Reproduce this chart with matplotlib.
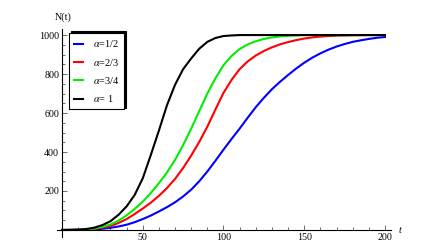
import matplotlib
matplotlib.use("Agg")
import matplotlib.pyplot as plt
from matplotlib.patches import Shadow
from matplotlib.ticker import MultipleLocator, FixedLocator

# values (every 5 units of t)
t_black = [0, 5, 10, 15, 20, 25, 30, 35, 40, 45, 50, 55, 60, 65, 70, 75, 80, 85, 90, 95, 100, 105, 110, 120, 140, 160, 180, 200]
n_black = [0, 1, 2, 5, 12, 25, 45, 78, 121, 180, 265, 385, 510, 640, 745, 825, 880, 930, 965, 985, 995, 998, 1000, 1000, 1000, 1000, 1000, 1000]

t_green = [0, 5, 10, 15, 20, 25, 30, 35, 40, 45, 50, 55, 60, 65, 70, 75, 80, 85, 90, 95, 100,
           105, 110, 115, 120, 125, 130, 135, 140, 145, 150, 160, 180, 200]
n_green = [0, 0, 1, 3, 8, 16, 28, 48, 75, 108, 145, 190, 240, 295, 360, 435, 520, 610, 700, 778, 845,
           893, 928, 952, 968, 980, 988, 993, 996, 998, 1000, 1000, 1000, 1000]

t_red = [0, 5, 10, 15, 20, 25, 30, 35, 40, 45, 50, 55, 60, 65, 70, 75, 80, 85, 90, 95, 100,
         105, 110, 115, 120, 125, 130, 135, 140, 145, 150, 155, 160, 165, 170, 180, 190, 200]
n_red = [0, 0, 1, 2, 6, 12, 20, 36, 56, 82, 110, 140, 175, 215, 262, 318, 382, 452, 530, 618, 703,
         770, 825, 865, 895, 918, 937, 952, 964, 974, 982, 988, 992, 995, 997, 999, 1000, 1000]

t_blue = [0, 10, 15, 20, 25, 30, 35, 40, 45, 50, 55, 60, 65, 70, 75, 80, 85, 90, 95, 100,
          105, 110, 115, 120, 125, 130, 135, 140, 145, 150, 155, 160, 165, 170, 175, 180, 185, 190, 195, 200]
n_blue = [0, 0, 1, 3, 6, 11, 18, 27, 40, 56, 74, 95, 117, 142, 172, 207, 250, 300, 355, 412,
          467, 520, 576, 630, 678, 722, 760, 795, 828, 858, 884, 906, 925, 941, 954, 965, 973, 980, 986, 990]

labels = [r"$\alpha$=1/2", r"$\alpha$=2/3", r"$\alpha$=3/4", r"$\alpha$= 1"]

plt.rcParams["font.family"] = ["Liberation Serif", "DejaVu Serif"]
plt.rcParams["mathtext.fontset"] = "stix"

fig = plt.figure(figsize=(4.22, 2.49), dpi=100)
ax = fig.add_axes([0.1355, 0.049, 0.792, 0.8337])

ax.plot(t_blue, n_blue, color="#0000ff", lw=1.5, label=labels[0])
ax.plot(t_red, n_red, color="#ff0000", lw=1.5, label=labels[1])
ax.plot(t_green, n_green, color="#00ee00", lw=1.5, label=labels[2])
ax.plot(t_black, n_black, color="black", lw=1.5, label=labels[3])

ax.set_xlim(-3, 204)
ax.set_ylim(-35, 1030)

for side in ["top", "right"]:
    ax.spines[side].set_visible(False)
ax.spines["left"].set_position(("data", 0))
ax.spines["bottom"].set_position(("data", 0))
ax.spines["left"].set_linewidth(0.8)
ax.spines["bottom"].set_linewidth(0.8)

ax.xaxis.set_major_locator(FixedLocator([50, 100, 150, 200]))
ax.xaxis.set_minor_locator(MultipleLocator(10))
ax.yaxis.set_major_locator(FixedLocator([200, 400, 600, 800, 1000]))
ax.yaxis.set_minor_locator(MultipleLocator(50))
ax.tick_params(which="both", direction="in", labelsize=7.2, width=0.6, color="#555555")
ax.tick_params(which="major", length=3.5, pad=2)
ax.tick_params(which="minor", length=2)

ax.text(0.5, 1092, "N(t)", ha="center", va="center", fontsize=7.2, clip_on=False)
ax.text(209.5, -5, "t", ha="center", va="center", fontsize=7.2, style="italic", clip_on=False)

leg = ax.legend(loc="upper left", bbox_to_anchor=(69 / 422, 1 - 33 / 249),
                bbox_transform=fig.transFigure, borderaxespad=0, borderpad=0.5,
                handlelength=0.9, handletextpad=0.9, labelspacing=0.72,
                fancybox=False, fontsize=7.4, framealpha=1)
leg.get_frame().set_edgecolor("black")
leg.get_frame().set_linewidth(0.8)

fig.canvas.draw()
sh = Shadow(leg.legendPatch, 1.3, 1.3, facecolor="black", edgecolor="black", alpha=1)
sh.set_zorder(leg.get_zorder() - 0.01)
sh.set_clip_on(False)
ax.add_artist(sh)

fig.savefig("out.png", dpi=100)
